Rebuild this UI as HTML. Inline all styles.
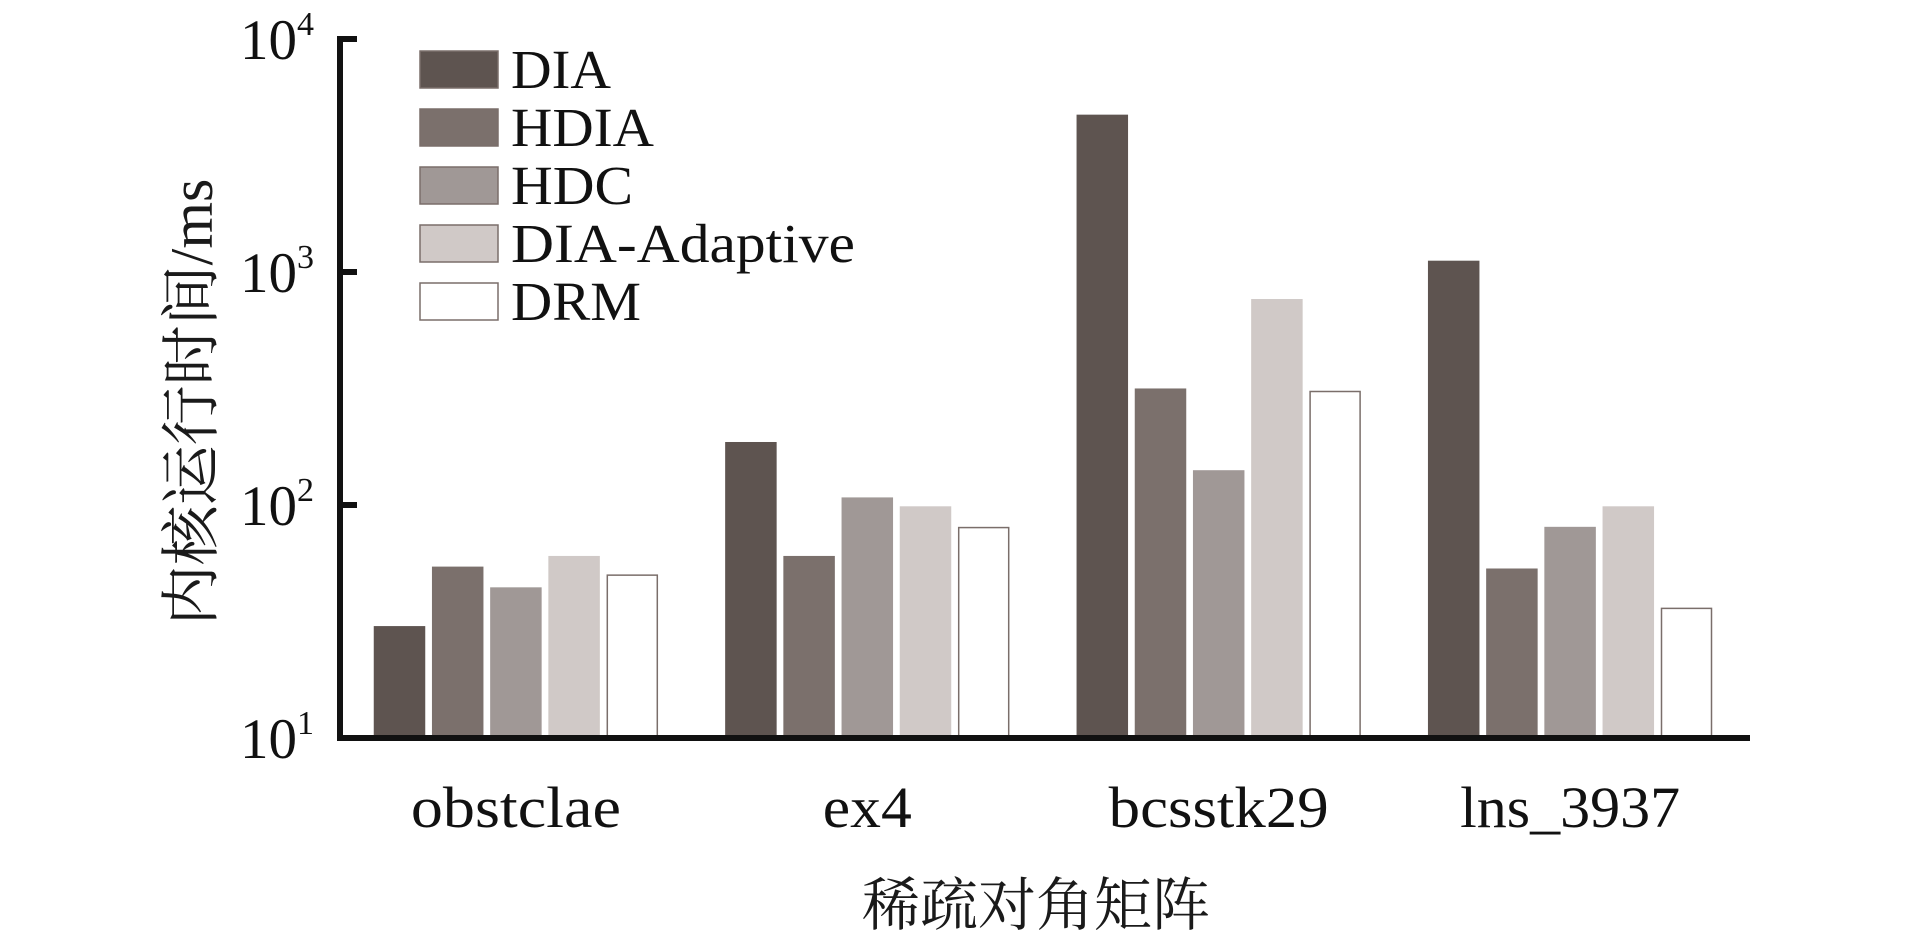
<!DOCTYPE html>
<html><head><meta charset="utf-8"><style>
html,body{margin:0;padding:0;background:#fff;}
svg{display:block;font-family:"Liberation Serif","Noto Serif CJK SC",serif;}
</style></head><body>
<svg id="chart" width="1913" height="945" viewBox="0 0 1913 945" xmlns="http://www.w3.org/2000/svg">
<g id="bars"></g>
<g id="axes"></g>
<g id="legend"></g>
<text x="1036" y="925" font-size="58" text-anchor="middle" fill="#1a1a1a">稀疏对角矩阵</text>
<text transform="translate(212,402) rotate(-90)" font-size="60" text-anchor="middle" fill="#1a1a1a">内核运行时间/ms</text>
</svg>
<script>
const categories = ["obstclae","ex4","bcsstk29","lns_3937"];
const seriesNames = ["DIA","HDIA","HDC","DIA-Adaptive","DRM"];
const seriesDIA = [30,185,4700,1110];
const seriesHDIA = [54,60,314,53];
const seriesHDC = [44,107,140,80];
const seriesAdaptive = [60,98,760,98];
const seriesDRM = [50,80,307,36];
const tickExps = [1,2,3,4];
const colors = ["#5e5450","#7b706c","#a09896","#d0c9c7","#ffffff"];
const catWidths = [210,89,220,220];
const legWidths = [100,143,122,344,130];
const allSeries = [seriesDIA,seriesHDIA,seriesHDC,seriesAdaptive,seriesDRM];
const NS = "http://www.w3.org/2000/svg";
const axX = 340, x1 = 1750, yTop = 39, yBot = 738, minE = 1, maxE = 4;
function yScale(v){ return yBot - (Math.log10(v)-minE)/(maxE-minE)*(yBot-yTop); }
const groupStart = 374.5, groupPitch = 351.4, barPitch = 58.2, barW = 50;
function xBar(g,s){ return groupStart + g*groupPitch + s*barPitch; }
function mk(tag, attrs, parent){ const e=document.createElementNS(NS,tag); for(const k in attrs) e.setAttribute(k,attrs[k]); parent.appendChild(e); return e; }
const bars = document.getElementById('bars');
allSeries.forEach((ser,s)=>{
  ser.forEach((v,g)=>{
    const y = yScale(v);
    const r = mk('rect',{x:xBar(g,s),y:y,width:barW,height:yBot-y,fill:colors[s],stroke:s===4?'#7a6e6a':colors[s],'stroke-width':1.5},bars);
    
    
  });
});
const axes = document.getElementById('axes');
const yl = mk('line',{x1:axX,y1:yTop-3,x2:axX,y2:yBot+3,stroke:'#111','stroke-width':6},axes);


const xl = mk('line',{x1:axX-3,y1:yBot,x2:x1,y2:yBot,stroke:'#111','stroke-width':6},axes);


tickExps.forEach(e=>{
  const y = yScale(Math.pow(10,e));
  const t = mk('line',{x1:axX,y1:y,x2:axX+17,y2:y,stroke:'#111','stroke-width':6},axes);
  
  
  const tx = mk('text',{x:240,y:y+20,'font-size':57,fill:'#111'},axes);
  
  
  tx.textContent = '10';
  const sp = mk('tspan',{dy:-24,'font-size':34},tx);
  sp.textContent = String(e);
});
categories.forEach((c,g)=>{
  const cx = xBar(g,0) + (4*barPitch+barW)/2;
  const t = mk('text',{x:cx,y:827,'font-size':58,'text-anchor':'middle',fill:'#111',textLength:catWidths[g],lengthAdjust:'spacingAndGlyphs'},axes);
  
  
  t.textContent = c;
});
const legend = document.getElementById('legend');
seriesNames.forEach((n,s)=>{
  const y = 51 + s*58;
  const r = mk('rect',{x:420,y:y,width:78,height:37,fill:colors[s],stroke:'#7a6e6a','stroke-width':1.5},legend);
  
  
  const t = mk('text',{x:511,y:y+37,'font-size':55,fill:'#111',textLength:legWidths[s],lengthAdjust:'spacingAndGlyphs'},legend);
  
  
  t.textContent = n;
});
</script>
</body></html>
